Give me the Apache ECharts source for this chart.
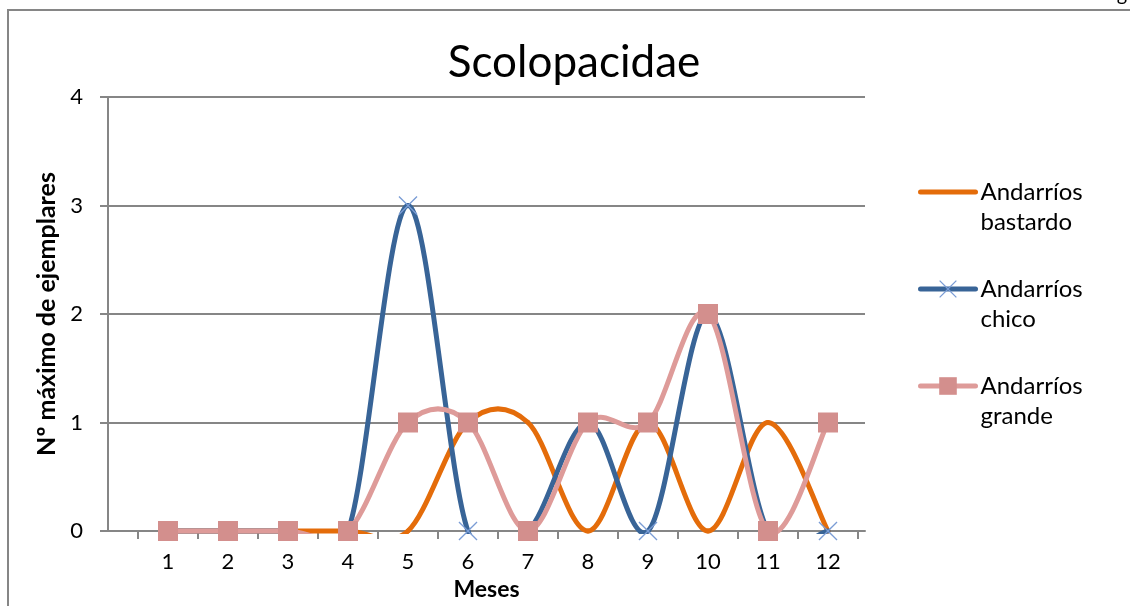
<!DOCTYPE html>
<html>
<head>
<meta charset="utf-8">
<script src="https://cdn.jsdelivr.net/npm/echarts@6/dist/echarts.min.js"></script>
<style>
  html, body { margin: 0; padding: 0; background: #fff; }
  #chart { width: 1130px; height: 606px; }
</style>
</head>
<body>
<div id="chart"></div>
<script>
// datos del gráfico
const meses = [1, 2, 3, 4, 5, 6, 7, 8, 9, 10, 11, 12];
const bastardo = [0, 0, 0, 0, 0, 1, 1, 0, 1, 0, 1, 0];
const chico = [0, 0, 0, 0, 3, 0, 0, 1, 0, 2, 0, 0];
const grande = [0, 0, 0, 0, 1, 1, 0, 1, 1, 2, 0, 1];
const yTicks = [0, 1, 2, 3, 4];

const FONT = 'Lato, "Open Sans", sans-serif';
const GRIS = '#868686';
const NARANJA = '#E46C0A';
const AZUL = '#386497';
const ROSA = '#DE9B99';
const cruz = 'path://M0,1L1,0L10,9L19,0L20,1L11,10L20,19L19,20L10,11L1,20L0,19L9,10Z';

const pares = vals => meses.map((m, i) => [m, vals[i]]);

// curva suavizada tipo Excel (bezier con tangentes de los vecinos)
function curva(nombre, vals, color) {
  return {
    name: nombre,
    type: 'custom',
    data: pares(vals),
    silent: true,
    renderItem: (params, api) => {
      const i = params.dataIndex;
      const n = vals.length;
      if (i >= n - 1) return null;
      const P = k => {
        const j = Math.max(0, Math.min(n - 1, k));
        return api.coord([meses[j], vals[j]]);
      };
      const p0 = P(i - 1), p1 = P(i), p2 = P(i + 1), p3 = P(i + 2);
      const cs = params.coordSys;
      return {
        type: 'bezierCurve',
        shape: {
          x1: p1[0], y1: p1[1], x2: p2[0], y2: p2[1],
          cpx1: p1[0] + (p2[0] - p0[0]) / 6, cpy1: p1[1] + (p2[1] - p0[1]) / 6,
          cpx2: p2[0] - (p3[0] - p1[0]) / 6, cpy2: p2[1] - (p3[1] - p1[1]) / 6
        },
        style: { stroke: color, lineWidth: 5, fill: null, lineCap: 'round' },
        clipPath: {
          type: 'rect',
          shape: { x: cs.x - 10, y: cs.y - 10, width: cs.width + 20, height: cs.height + 13 }
        }
      };
    }
  };
}

const chartDom = document.getElementById('chart');
const myChart = echarts.init(chartDom);

const option = {
  animation: false,
  textStyle: { fontFamily: FONT },
  graphic: [
    {
      type: 'rect', silent: true,
      shape: { x: 8, y: 10, width: 1400, height: 900 },
      style: { fill: 'none', stroke: GRIS, lineWidth: 2 }
    },
    {
      type: 'text', x: 574, y: 63,
      style: { text: 'Scolopacidae', fontSize: 44, fontFamily: FONT, fill: '#000', align: 'center', verticalAlign: 'middle' }
    },
    {
      type: 'text', x: 1122, y: 5,
      style: { text: 'g', fontSize: 20, fontFamily: FONT, fill: '#000', align: 'center', verticalAlign: 'bottom' }
    }
  ],
  grid: { left: 108, top: 97, width: 757, height: 434, containLabel: false },
  legend: {
    orient: 'vertical',
    left: 913,
    top: 142,
    itemWidth: 55,
    itemHeight: 22,
    itemGap: 7,
    formatter: name => '\n' + name.replace(' ', '\n'),
    textStyle: { fontSize: 24, lineHeight: 30, color: '#000', fontFamily: FONT },
    lineStyle: { width: 5, opacity: 1, cap: 'round' },
    data: [
      { name: 'Andarríos bastardo', itemStyle: { opacity: 0 } },
      { name: 'Andarríos chico' },
      { name: 'Andarríos grande' }
    ]
  },
  xAxis: {
    type: 'value',
    min: 0,
    max: 12.617,
    name: 'Meses',
    nameLocation: 'middle',
    nameGap: 46,
    nameTextStyle: { fontSize: 23, fontWeight: 'bold', color: '#000', fontFamily: FONT },
    axisLine: { show: true, onZero: false, lineStyle: { color: GRIS, width: 2 } },
    axisTick: { show: true, length: 8, customValues: meses.map(m => m - 0.5).concat([12.5]), lineStyle: { color: GRIS, width: 2 } },
    axisLabel: { customValues: meses, margin: 20, fontSize: 22, color: '#000', fontFamily: FONT },
    splitLine: { show: false }
  },
  yAxis: {
    type: 'value',
    min: 0,
    max: 4,
    interval: 1,
    name: 'Nº máximo de ejemplares',
    nameLocation: 'middle',
    nameGap: 44,
    nameTextStyle: { fontSize: 25, fontWeight: 'bold', color: '#000', fontFamily: FONT },
    axisLine: { show: true, lineStyle: { color: GRIS, width: 2 } },
    axisTick: { show: true, length: 8, lineStyle: { color: GRIS, width: 2 } },
    axisLabel: { margin: 25, fontSize: 22, color: '#000', fontFamily: FONT, formatter: v => yTicks.includes(v) ? String(v) : '' },
    splitLine: { show: true, lineStyle: { color: GRIS, width: 2 } }
  },
  series: [
    curva('curva bastardo', bastardo, NARANJA),
    curva('curva chico', chico, AZUL),
    curva('curva grande', grande, ROSA),
    {
      name: 'Andarríos bastardo',
      type: 'line',
      data: pares(bastardo),
      symbol: 'none',
      lineStyle: { color: NARANJA, width: 5, opacity: 0 },
      itemStyle: { color: NARANJA }
    },
    {
      name: 'Andarríos chico',
      type: 'line',
      data: pares(chico),
      symbol: cruz,
      symbolSize: 19,
      lineStyle: { color: AZUL, width: 5, opacity: 0 },
      itemStyle: { color: '#7A9CD5' }
    },
    {
      name: 'Andarríos grande',
      type: 'line',
      data: pares(grande),
      symbol: 'rect',
      symbolSize: 20,
      lineStyle: { color: ROSA, width: 5, opacity: 0 },
      itemStyle: { color: '#D38F8D' }
    }
  ]
};

option && myChart.setOption(option);
</script>
</body>
</html>
